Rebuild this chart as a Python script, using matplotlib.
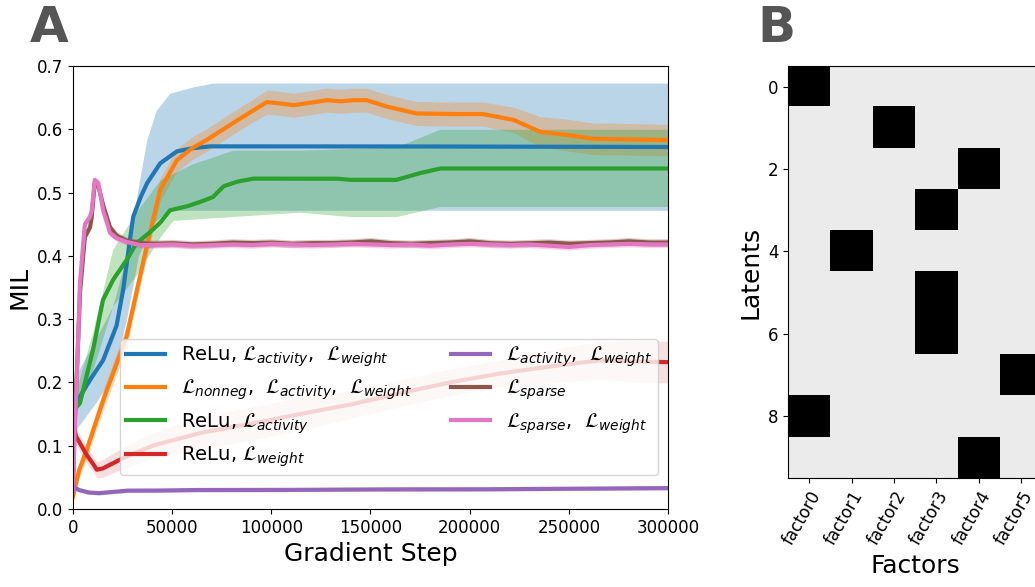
import numpy as np
import matplotlib
matplotlib.use("Agg")
import matplotlib.pyplot as plt

# ---- panel A data ----
blue_x = [0, 3000, 8600, 15200, 22000, 25300, 28000, 30400, 34000, 37200, 43900, 52300, 60000, 69000, 150000, 300000]
blue_y = [0.155, 0.175, 0.204, 0.235, 0.29, 0.346, 0.41, 0.462, 0.492, 0.514, 0.546, 0.565, 0.570, 0.573, 0.573, 0.572]
blue_up_x = [0, 3000, 10000, 20000, 27000, 28700, 33000, 37200, 42000, 48900, 60600, 70600, 300000]
blue_up_y = [0.20, 0.22, 0.26, 0.32, 0.40, 0.425, 0.51, 0.583, 0.63, 0.657, 0.667, 0.673, 0.673]
blue_lo_x = [0, 5000, 12000, 20000, 27000, 33000, 40000, 48000, 300000]
blue_lo_y = [0.12, 0.14, 0.17, 0.21, 0.30, 0.40, 0.45, 0.472, 0.472]

orange_x = [0, 3000, 6900, 15000, 27000, 35300, 43900, 52300, 60000, 67400, 80700, 90000, 97700, 104000,
            111000, 120000, 128000, 135000, 141000, 148000, 158000, 173000, 190000, 206700, 222000,
            235500, 249000, 262000, 282000, 300000]
orange_y = [0.02, 0.06, 0.093, 0.17, 0.272, 0.389, 0.504, 0.551, 0.570, 0.583, 0.610, 0.628, 0.643, 0.641,
            0.638, 0.642, 0.646, 0.644, 0.646, 0.646, 0.636, 0.625, 0.624, 0.624, 0.615,
            0.596, 0.591, 0.585, 0.584, 0.583]
orange_err = [0.01, 0.012, 0.014, 0.016, 0.018, 0.018, 0.018, 0.018, 0.018, 0.018, 0.018, 0.018, 0.019, 0.019,
              0.019, 0.019, 0.019, 0.019, 0.019, 0.019, 0.019, 0.019, 0.019, 0.019, 0.02,
              0.024, 0.025, 0.025, 0.025, 0.025]

green_x = [0, 3500, 10100, 15100, 20200, 27000, 32000, 38000, 43900, 48900, 57300, 64000, 70600, 76000,
           82500, 90800, 133000, 139700, 163000, 174000, 185000, 300000]
green_y = [0.155, 0.167, 0.251, 0.33, 0.362, 0.393, 0.42, 0.435, 0.452, 0.472, 0.478, 0.485, 0.493, 0.51,
           0.517, 0.522, 0.522, 0.52, 0.52, 0.53, 0.538, 0.538]
green_up_x = [0, 10000, 20000, 32000, 44000, 60000, 80700, 114500, 163000, 185000, 300000]
green_up_y = [0.17, 0.28, 0.41, 0.47, 0.52, 0.545, 0.567, 0.567, 0.572, 0.60, 0.60]
green_lo_x = [0, 10000, 20000, 32000, 44000, 50400, 114500, 140000, 163000, 185000, 300000]
green_lo_y = [0.14, 0.22, 0.32, 0.37, 0.43, 0.456, 0.469, 0.462, 0.462, 0.478, 0.478]

red_x = [0, 1500, 3500, 7000, 10000, 12000, 15000, 18700, 25000, 40000, 64000, 90000, 114400, 140000,
         165000, 190000, 215000, 240000, 265700, 285000, 300000]
red_y = [0.14, 0.115, 0.104, 0.085, 0.072, 0.062, 0.064, 0.07, 0.08, 0.10, 0.12, 0.135, 0.15, 0.165,
         0.183, 0.20, 0.214, 0.225, 0.235, 0.233, 0.232]
red_err = [0.01, 0.012, 0.013, 0.013, 0.013, 0.013, 0.014, 0.015, 0.017, 0.02, 0.026, 0.026, 0.026, 0.022,
           0.021, 0.021, 0.021, 0.026, 0.03, 0.033, 0.033]

purple_x = [0, 3000, 8000, 13000, 20000, 27000, 40000, 60000, 100000, 150000, 200000, 250000, 300000]
purple_y = [0.035, 0.03, 0.026, 0.025, 0.027, 0.029, 0.029, 0.030, 0.030, 0.031, 0.031, 0.032, 0.033]

sparse_x = [0, 800, 1900, 3500, 6000, 8600, 9400, 11000, 12800, 15200, 18700, 22000, 27000, 33800,
            40000, 50000, 60000, 70000, 80000, 90000, 100000, 110000, 120000, 130000, 140000, 150000,
            160000, 170000, 180000, 190000, 200000, 210000, 220000, 230000, 240000, 250000, 260000,
            270000, 280000, 290000, 300000]
pink_y = [0.03, 0.12, 0.20, 0.357, 0.45, 0.462, 0.47, 0.52, 0.515, 0.472, 0.436, 0.428, 0.422, 0.417,
          0.417, 0.418, 0.416, 0.417, 0.418, 0.417, 0.419, 0.418, 0.417, 0.418, 0.419, 0.418,
          0.417, 0.418, 0.416, 0.418, 0.419, 0.418, 0.417, 0.418, 0.416, 0.414, 0.417,
          0.418, 0.419, 0.418, 0.418]
brown_y = [0.03, 0.13, 0.21, 0.34, 0.43, 0.445, 0.46, 0.515, 0.51, 0.48, 0.445, 0.432, 0.424, 0.420,
           0.419, 0.420, 0.418, 0.419, 0.421, 0.420, 0.421, 0.419, 0.420, 0.420, 0.421, 0.423,
           0.420, 0.419, 0.420, 0.421, 0.423, 0.420, 0.419, 0.420, 0.421, 0.419, 0.420,
           0.421, 0.423, 0.421, 0.421]

labels = [r"ReLu, $\mathcal{L}_{activity}$,  $\mathcal{L}_{weight}$",
          r"$\mathcal{L}_{nonneg}$,  $\mathcal{L}_{activity}$,  $\mathcal{L}_{weight}$",
          r"ReLu, $\mathcal{L}_{activity}$",
          r"ReLu, $\mathcal{L}_{weight}$",
          r"$\mathcal{L}_{activity}$,  $\mathcal{L}_{weight}$",
          r"$\mathcal{L}_{sparse}$",
          r"$\mathcal{L}_{sparse}$,  $\mathcal{L}_{weight}$"]

# ---- panel B data ----
factors = ["factor0", "factor1", "factor2", "factor3", "factor4", "factor5"]
n_latents = 10
# (latent, factor) cells that are black
active = [(0, 0), (1, 2), (2, 4), (3, 3), (4, 1), (5, 3), (6, 3), (7, 5), (8, 0), (9, 4)]

C = ["#1f77b4", "#ff7f0e", "#2ca02c", "#d62728", "#9467bd", "#8c564b", "#e377c2"]

fig = plt.figure(figsize=(10.35, 5.87), dpi=100)
ax = fig.add_axes([0.0705, 0.1329, 0.5749, 0.7547])

grid = np.linspace(0, 300000, 1501)


def interp(xs, ys):
    return np.interp(grid, xs, ys)


lw = 3
# blue
ax.fill_between(grid, interp(blue_lo_x, blue_lo_y), interp(blue_up_x, blue_up_y), color=C[0], alpha=0.3, lw=0)
ax.plot(grid, interp(blue_x, blue_y), color=C[0], lw=lw, label=labels[0])
# orange
oy = interp(orange_x, orange_y)
oe = interp(orange_x, orange_err)
ax.fill_between(grid, oy - oe, oy + oe, color=C[1], alpha=0.3, lw=0)
ax.plot(grid, oy, color=C[1], lw=lw, label=labels[1])
# green
ax.fill_between(grid, interp(green_lo_x, green_lo_y), interp(green_up_x, green_up_y), color=C[2], alpha=0.3, lw=0)
ax.plot(grid, interp(green_x, green_y), color=C[2], lw=lw, label=labels[2])
# red
ry = interp(red_x, red_y)
re = interp(red_x, red_err)
ax.fill_between(grid, ry - re, ry + re, color=C[3], alpha=0.15, lw=0)
ax.plot(grid, ry, color=C[3], lw=lw, label=labels[3])
# purple
py = interp(purple_x, purple_y)
ax.fill_between(grid, py - 0.003, py + 0.003, color=C[4], alpha=0.3, lw=0)
ax.plot(grid, py, color=C[4], lw=lw, label=labels[4])
# brown
by = interp(sparse_x, brown_y)
ax.fill_between(grid, by - 0.006, by + 0.006, color=C[5], alpha=0.3, lw=0)
ax.plot(grid, by, color=C[5], lw=lw, label=labels[5])
# pink
pk = interp(sparse_x, pink_y)
ax.fill_between(grid, pk - 0.005, pk + 0.005, color=C[6], alpha=0.3, lw=0)
ax.plot(grid, pk, color=C[6], lw=lw, label=labels[6])

ax.set_xlim(0, 300000)
ax.set_ylim(0, 0.7)
ax.set_xticks([0, 50000, 100000, 150000, 200000, 250000, 300000])
ax.set_yticks([0.0, 0.1, 0.2, 0.3, 0.4, 0.5, 0.6, 0.7])
ax.tick_params(labelsize=12)
ax.set_xlabel("Gradient Step", fontsize=18)
ax.set_ylabel("MIL", fontsize=18)
ax.legend(loc="lower right", bbox_to_anchor=(1.0, 0.055), ncol=2, fontsize=14.1,
          labelspacing=0.45, borderpad=0.3, handlelength=2.0)

# ---- panel B ----
mat = np.full((n_latents, len(factors)), 0.08)
for r, c in active:
    mat[r, c] = 1.0

bx = fig.add_axes([0.7614, 0.1857, 0.2456, 0.7019])
bx.imshow(mat, cmap="gray_r", vmin=0, vmax=1, aspect="auto")
bx.set_yticks([0, 2, 4, 6, 8])
bx.set_xticks(range(len(factors)))
bx.set_xticklabels(factors, rotation=60, ha="right", rotation_mode="anchor")
bx.tick_params(labelsize=12)
bx.set_xlabel("Factors", fontsize=18)
bx.set_ylabel("Latents", fontsize=18)

fig.text(0.029, 0.928, "A", fontsize=36, fontweight="bold", color="#555555")
fig.text(0.732, 0.928, "B", fontsize=36, fontweight="bold", color="#555555")

fig.savefig("out.png", dpi=100)
